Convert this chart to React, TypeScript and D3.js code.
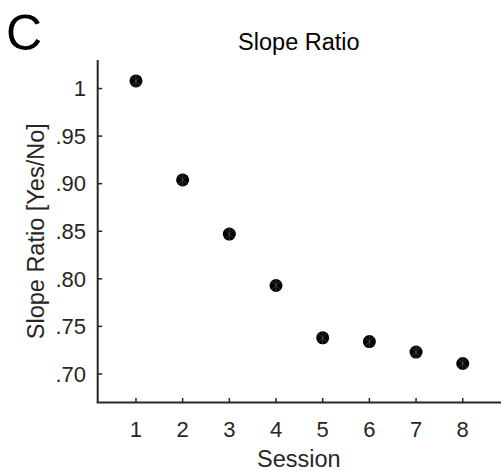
import React from "react";
import * as d3 from "d3";

const sessions = [1, 2, 3, 4, 5, 6, 7, 8];
const slopeRatios = [1.008, 0.904, 0.847, 0.793, 0.738, 0.734, 0.723, 0.711];
const yTickValues = [0.7, 0.75, 0.8, 0.85, 0.9, 0.95, 1];
const yTickLabels = [".70", ".75", ".80", ".85", ".90", ".95", "1"];
const xTickValues = [1, 2, 3, 4, 5, 6, 7, 8];

const W = 501;
const H = 471;
const left = 97.7;
const right = 501;
const top = 60;
const bottom = 402.5;
const axisColor = "#262626";
const font = "'Liberation Sans', Arial, Helvetica, sans-serif";

export default function App() {
  const x = d3.scaleLinear().domain([0.18, 8.82]).range([left, right]);
  const y = d3.scaleLinear().domain([0.67, 1.03]).range([bottom, top]);
  const r = 6.5;
  return (
    <svg width={W} height={H} style={{ position: "absolute", left: 0, top: 0, background: "#fff" }}>
      <text x={6} y={50} fontFamily={font} fontSize={50} fill="#000">C</text>
      <text x={(left + 500) / 2} y={50} textAnchor="middle" fontFamily={font} fontSize={23.5} fill="#000">Slope Ratio</text>
      {/* axes */}
      <line x1={left} x2={left} y1={top} y2={bottom} stroke={axisColor} strokeWidth={2} />
      <line x1={left - 1} x2={right} y1={bottom} y2={bottom} stroke={axisColor} strokeWidth={2} />
      {yTickValues.map((v, i) => (
        <g key={"y" + i}>
          <line x1={left} x2={left + 4.5} y1={y(v)} y2={y(v)} stroke={axisColor} strokeWidth={1.5} />
          <text x={86} y={y(v) + 7.8} textAnchor="end" fontFamily={font} fontSize={22} fill={axisColor}>
            {yTickLabels[i]}
          </text>
        </g>
      ))}
      {xTickValues.map((v, i) => (
        <g key={"x" + i}>
          <line x1={x(v)} x2={x(v)} y1={bottom} y2={bottom - 4.5} stroke={axisColor} strokeWidth={1.5} />
          <text x={x(v)} y={436.7} textAnchor="middle" fontFamily={font} fontSize={22} fill={axisColor}>
            {String(v)}
          </text>
        </g>
      ))}
      <text x={(left + 500) / 2} y={467} textAnchor="middle" fontFamily={font} fontSize={23.5} fill={axisColor}>Session</text>
      <text transform={`translate(44,${(top + bottom) / 2}) rotate(-90)`} textAnchor="middle" fontFamily={font} fontSize={23.5} fill={axisColor}>
        Slope Ratio [Yes/No]
      </text>
      {sessions.map((s, i) => {
        const cx = x(s);
        const cy = y(slopeRatios[i]);
        const d = r * 0.7;
        return (
          <g key={"p" + i}>
            <circle cx={cx} cy={cy} r={r} fill="#000" />
            <line x1={cx} x2={cx} y1={cy - r} y2={cy + r} stroke="#555" strokeWidth={0.7} />
            <line x1={cx - d} x2={cx + d} y1={cy - d} y2={cy + d} stroke="#555" strokeWidth={0.7} />
            <line x1={cx - d} x2={cx + d} y1={cy + d} y2={cy - d} stroke="#555" strokeWidth={0.7} />
          </g>
        );
      })}
    </svg>
  );
}
